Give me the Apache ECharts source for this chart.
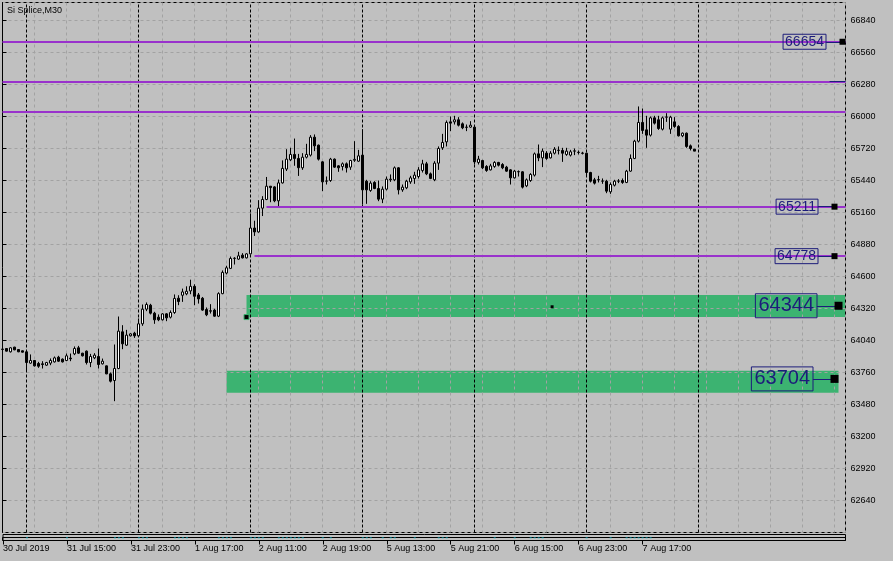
<!DOCTYPE html>
<html><head><meta charset="utf-8">
<script src="https://cdn.jsdelivr.net/npm/echarts@6/dist/echarts.min.js"></script>
<style>html,body{margin:0;padding:0;background:#c0c0c0;}#c{width:893px;height:561px;}</style>
</head><body><div id="c"></div>
<script>
// ---- data (M30 bars, index 0 = 30 Jul 2019 21:00) ----
const opens = [63965,63970,63941,63982,63961,63950,63941,63842,63865,63839,63836,63824,63842,63853,63894,63877,63865,63886,63923,63976,63929,63947,63847,63888,63900,63836,63818,63748,63690,63795,64116,63999,64081,64104,64081,64186,64314,64349,64279,64244,64221,64273,64244,64285,64410,64436,64448,64474,64514,64439,64410,64311,64300,64306,64253,64450,64630,64671,64758,64752,64787,64763,64798,65024,64990,65198,65274,65390,65384,65262,65419,65540,65621,65668,65633,65551,65644,65662,65819,65749,65603,65434,65440,65627,65568,65563,65586,65557,65617,65609,65662,65434,65353,65423,65370,65277,65364,65446,65446,65551,65358,65376,65428,65458,65475,65528,65586,65498,65446,65592,65726,65778,65953,65953,65971,65936,65907,65907,65907,65598,65615,65563,65533,65563,65598,65580,65557,65533,65463,65516,65516,65393,65440,65487,65673,65638,65679,65638,65679,65703,65703,65668,65662,65697,65685,65680,65679,65510,65446,65446,65434,65434,65341,65399,65434,65440,65423,65522,65633,65784,65948,65883,65837,65988,65971,65889,65994,65889,65953,65913,65831,65854,65743,65714];
const closes = [63962,63947,63976,63958,63941,63938,63847,63865,63818,63815,63830,63847,63865,63888,63859,63853,63906,63880,63970,63929,63906,63847,63900,63912,63830,63859,63748,63684,63795,64122,64011,64087,64098,64081,64186,64314,64355,64279,64221,64221,64273,64238,64285,64408,64381,64465,64471,64514,64427,64404,64306,64265,64297,64253,64450,64636,64676,64758,64760,64781,64763,64798,65024,64990,65198,65274,65390,65378,65262,65419,65546,65627,65668,65633,65552,65644,65668,65819,65743,65627,65428,65436,65627,65557,65551,65586,65551,65615,65625,65656,65358,65358,65417,65370,65277,65364,65452,65452,65551,65358,65382,65434,65463,65487,65533,65586,65498,65458,65592,65720,65773,65948,65942,65971,65924,65901,65905,65924,65603,65627,65551,65528,65568,65598,65574,65551,65522,65463,65522,65518,65382,65446,65493,65673,65638,65697,65633,65679,65714,65705,65679,65697,65691,65699,65687,65678,65510,65434,65417,65448,65436,65347,65405,65434,65436,65423,65522,65633,65784,65948,65878,65837,65988,65942,65895,65988,65996,65994,65913,65831,65854,65738,65720,65697];
const lows = [63958,63944,63935,63955,63938,63935,63772,63836,63812,63801,63795,63818,63824,63847,63853,63847,63859,63859,63912,63923,63900,63830,63807,63877,63795,63830,63745,63673,63509,63789,63964,63993,64075,64063,64075,64168,64297,64268,64186,64209,64215,64209,64233,64273,64349,64378,64436,64445,64349,64363,64300,64253,64276,64248,64245,64445,64619,64665,64705,64746,64758,64758,64793,64955,64984,65129,65268,65250,65250,65216,65413,65523,65610,65569,65480,65533,65633,65650,65697,65615,65347,65405,65428,65551,65516,65528,65510,65533,65603,65603,65230,65236,65341,65364,65259,65242,65353,65428,65434,65318,65341,65364,65411,65411,65458,65510,65487,65452,65434,65533,65708,65738,65872,65930,65913,65889,65872,65901,65580,65580,65539,65516,65528,65551,65563,65539,65516,65405,65458,65475,65370,65382,65428,65475,65609,65557,65621,65633,65668,65668,65603,65656,65650,65662,65668,65668,65487,65423,65405,65423,65411,65329,65323,65388,65417,65411,65417,65516,65627,65773,65848,65726,65825,65930,65883,65878,65953,65848,65901,65825,65819,65726,65703,65697];
const highs = [63968,63973,63982,63985,63964,63953,63944,63918,63868,63853,63859,63853,63883,63900,63906,63883,63926,63926,63988,63993,63932,63953,63923,63929,63970,63882,63821,63760,64005,64250,64174,64133,64104,64116,64233,64355,64373,64361,64291,64268,64279,64279,64303,64443,64436,64494,64514,64572,64532,64456,64421,64329,64358,64317,64462,64653,64694,64775,64769,64816,64804,64804,65152,65088,65268,65303,65471,65392,65390,65448,65616,65714,65726,65807,65673,65679,65761,65837,65843,65755,65609,65475,65638,65633,65574,65598,65598,65621,65784,65708,65889,65446,65434,65434,65440,65388,65475,65493,65563,65557,65405,65446,65481,65516,65557,65621,65603,65510,65609,65738,65848,65965,66000,66006,65994,65948,65930,65959,65910,65656,65621,65574,65586,65609,65603,65592,65568,65539,65533,65528,65522,65458,65504,65685,65755,65720,65697,65697,65732,65738,65726,65726,65708,65720,65703,65691,65681,65516,65463,65481,65458,65446,65423,65446,65452,65458,65533,65668,65796,66088,66070,66006,66000,66006,66006,66000,66029,66006,65994,65924,65860,65860,65755,65714];

// x-axis tick labels, one every 16 bars starting at bar 0
const tickLabels = ['30 Jul 2019','31 Jul 15:00','31 Jul 23:00','1 Aug 17:00','2 Aug 11:00','2 Aug 19:00','5 Aug 13:00','5 Aug 21:00','6 Aug 15:00','6 Aug 23:00','7 Aug 17:00'];
const barsPerTick = 16;
// first bar (10:00) of each session
const sessionStarts = [6, 34, 62, 90, 118, 146, 174];
// horizontal levels
const fullLevels = [66654, 66307, 66045];
const rayLevels = [65211, 64778];
const rayStartBar = [66, 63];
// text labels of levels: value, anchor bar
const labelValues = [66654, 66307, 65211, 64778, 64344, 63704];
const labelAnchorBar = [210, 210.875, 208, 208, 209, 208];
const labelBig = [false, false, false, false, true, true];
// zones (rectangles)
const zoneTop = [64438, 63776];
const zoneBottom = [64245, 63583];
const zoneStartBar = [61, 56];
const zoneEndBar = [null, 209];
// small marks in the indicator sub-window (bar indices)
const subMarks = [6,16,28,29,30,34,35,36,43,44,45,46,54,55,56,57,62,63,64,65,69,70,71,72,73,74,75,80,82,90,91,92,95,97,98,103,109,110,111,123,128,132,133,134,135,146,152,156,157,158,159,160,161,162];
const subMarkLevel = 0.45;

// ---- chart ----
const XMAX = 210.75;
const FONT = 'Liberation Sans';
const GRIDC = '#a2a2a2';
const NAVY = '#1c1c7a';
const candleData = opens.map((o, i) => [i, o, closes[i], lows[i], highs[i]]);
const tickIdx = tickLabels.map((_, k) => k * barsPerTick);

const chart = echarts.init(document.getElementById('c'), null, {renderer: 'canvas'});

const zoneAreas = zoneTop.map((t, k) => [
  {coord: [zoneStartBar[k], t]},
  {coord: [zoneEndBar[k] == null ? XMAX : zoneEndBar[k], zoneBottom[k]]}
]);

const levelLines = fullLevels.map(v => ({yAxis: v})).concat(
  rayLevels.map((v, k) => [{coord: [rayStartBar[k], v]}, {coord: [XMAX, v]}])
);

const connectorLines = labelValues.map((v, k) => [
  {coord: [labelAnchorBar[k] - (labelBig[k] ? 5.4 : 4.1), v]},
  {coord: [Math.min(labelAnchorBar[k], XMAX), v]}
]);

const labelPoints = labelValues.map((v, k) => ({
  coord: [labelAnchorBar[k], v],
  value: v,
  symbol: 'rect',
  symbolSize: labelAnchorBar[k] > XMAX ? 0 : (labelBig[k] ? 8 : 6),
  itemStyle: {color: '#000'},
  label: {
    show: true, position: 'left',
    distance: labelAnchorBar[k] > XMAX ? 16 : (labelBig[k] ? 17.5 : 13.5),
    formatter: String(v),
    fontFamily: FONT,
    fontSize: labelBig[k] ? 20 : 14,
    lineHeight: labelBig[k] ? 21 : 14,
    color: NAVY,
    borderColor: NAVY, borderWidth: 1,
    padding: labelBig[k] ? [2, 3, 1, 3] : [1, 2, 0, 2]
  }
}));

const option = {
  animation: false,
  backgroundColor: '#c0c0c0',
  textStyle: {fontFamily: FONT},
  title: {text: 'Si Splice,M30', left: 7, top: 6, padding: 0,
    textStyle: {fontSize: 9, fontWeight: 'normal', color: '#000', fontFamily: FONT}},
  grid: [
    {left: 2.5, top: 2.5, width: 843, height: 530, show: true, borderColor: '#000', borderWidth: 1, backgroundColor: 'transparent'},
    {left: 2.5, top: 534.5, width: 843, height: 6, show: true, borderColor: '#000', borderWidth: 1, backgroundColor: 'transparent'},
    {left: 2.5, top: 537.5, width: 843, height: 3, show: true, borderColor: '#000', borderWidth: 1, backgroundColor: 'transparent'}
  ],
  xAxis: [
    {type: 'value', gridIndex: 0, min: 0, max: XMAX, interval: 8,
      axisLine: {show: false}, axisTick: {show: false}, axisLabel: {show: false},
      splitLine: {show: true, lineStyle: {color: GRIDC, type: [3, 3], width: 1}}},
    {type: 'value', gridIndex: 1, min: 0, max: XMAX, position: 'bottom',
      axisLine: {show: false},
      axisTick: {show: true, length: 4, lineStyle: {color: '#000'}, customValues: tickIdx},
      axisLabel: {show: true, customValues: tickIdx, align: 'left', margin: 4, fontSize: 9, color: '#000', fontFamily: FONT,
        formatter: v => tickLabels[Math.round(v / barsPerTick)] || ''},
      splitLine: {show: false}},
    {type: 'value', gridIndex: 2, min: 0, max: XMAX, show: false}
  ],
  yAxis: [
    {type: 'value', gridIndex: 0, position: 'right', min: 62360, max: 66997.5, interval: 280,
      axisLine: {show: true, lineStyle: {color: '#000'}},
      axisTick: {show: true, length: 4, lineStyle: {color: '#000'}},
      axisLabel: {show: true, showMinLabel: false, showMaxLabel: false, margin: 5, fontSize: 9, color: '#000', fontFamily: FONT,
        formatter: v => String(v)},
      splitLine: {show: true, lineStyle: {color: GRIDC, type: [3, 3], width: 1}}},
    {type: 'value', gridIndex: 1, min: 0, max: 1, show: false},
    {type: 'value', gridIndex: 2, min: 0, max: 1, show: false}
  ],
  series: [
    {type: 'line', xAxisIndex: 0, yAxisIndex: 0, data: [], silent: true,
      markArea: {silent: true, z: -1, itemStyle: {color: '#3cb371'}, data: zoneAreas}},
    {type: 'line', xAxisIndex: 0, yAxisIndex: 0, data: [], silent: true,
      markLine: {silent: true, symbol: ['none', 'none'], label: {show: false}, z: 3,
        lineStyle: {color: '#000', width: 1, type: [3, 2]},
        data: sessionStarts.map(i => ({xAxis: i}))}},
    {type: 'line', xAxisIndex: 0, yAxisIndex: 0, data: [], silent: true,
      markLine: {silent: true, symbol: ['none', 'none'], label: {show: false}, z: 4,
        lineStyle: {color: '#9932cc', width: 2, type: 'solid'}, data: levelLines}},
    {type: 'candlestick', xAxisIndex: 0, yAxisIndex: 0, data: candleData, barWidth: 2, z: 6,
      itemStyle: {color: '#ffffff', color0: '#000000', borderColor: '#000000', borderColor0: '#000000', borderWidth: 1}},
    {type: 'line', xAxisIndex: 0, yAxisIndex: 0, data: [], silent: true,
      markLine: {silent: true, symbol: ['none', 'none'], label: {show: false}, z: 7,
        lineStyle: {color: NAVY, width: 1, type: 'solid'}, data: connectorLines},
      markPoint: {silent: true, z: 8, data: labelPoints.concat([
        {coord: [zoneStartBar[0], zoneBottom[0]], symbol: 'rect', symbolSize: 5, label: {show: false},
          itemStyle: {color: '#000', borderColor: '#3cb371', borderWidth: 1}},
        {coord: [137.4, 64335], symbol: 'rect', symbolSize: 3, label: {show: false}, itemStyle: {color: '#000'}}
      ])}},
    {type: 'scatter', xAxisIndex: 1, yAxisIndex: 1, silent: true, symbol: 'rect', symbolSize: [2, 1],
      itemStyle: {color: '#00b4c8'}, data: subMarks.map(i => [i, subMarkLevel])}
  ]
};
chart.setOption(option);
</script></body></html>
